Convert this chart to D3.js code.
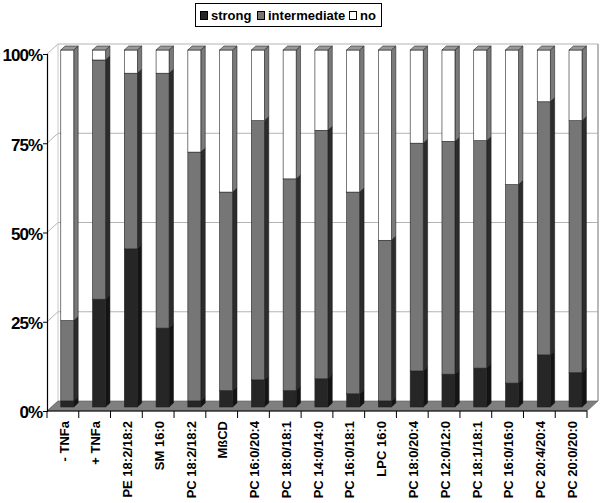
<!DOCTYPE html>
<html>
<head>
<meta charset="utf-8">
<script src="https://cdn.jsdelivr.net/npm/d3@7"></script>
<style>
  body { margin: 0; background: #fff; }
  text { font-family: "Liberation Sans", Arial, sans-serif; font-weight: bold; }
</style>
</head>
<body>
<div id="chart"></div>
<script>
// values, percent of cells
const categories = ["- TNFa", "+ TNFa", "PE 18:2/18:2", "SM 16:0", "PC 18:2/18:2", "MßCD",
  "PC 16:0/20:4", "PC 18:0/18:1", "PC 14:0/14:0", "PC 16:0/18:1", "LPC 16:0",
  "PC 18:0/20:4", "PC 12:0/12:0", "PC 18:1/18:1", "PC 16:0/16:0", "PC 20:4/20:4", "PC 20:0/20:0"];
const strong = [1.7, 30.2, 44.3, 22.1, 1.7, 4.6, 7.6, 4.6, 7.9, 3.7, 1.7, 10.1, 9.2, 10.9, 6.7, 14.6, 9.6];
const intermediate = [22.5, 67.0, 49.2, 71.4, 69.7, 55.6, 72.6, 59.3, 69.6, 56.5, 45.0, 63.8, 65.2, 63.7, 55.6, 70.9, 70.6];
const no = [75.8, 2.8, 6.5, 6.5, 28.6, 39.8, 19.8, 36.1, 22.5, 39.8, 53.3, 26.1, 25.6, 25.4, 37.7, 14.5, 19.8];
const seriesNames = ["strong", "intermediate", "no"];
const yTicks = [0, 25, 50, 75, 100];

const width = 600, height = 503;
const DX = 11, DY = -10;           // depth of the 3d box
const front = 0.4, back = 0.8;     // bar depth inside the box

const colors = {
  strong: { front: "#262626", side: "#141414", top: "#3a3a3a" },
  intermediate: { front: "#767676", side: "#2c2c2c", top: "#8a8a8a" },
  no: { front: "#ffffff", side: "#7a7a7a", top: "#999999" }
};

const rows = categories.map((c, i) => ({ cat: c, strong: strong[i], intermediate: intermediate[i], no: no[i] }));
const stacked = d3.stack().keys(seriesNames)(rows);

const x = d3.scaleBand().domain(categories).range([47, 587]);
const y = d3.scaleLinear().domain([0, 100]).range([411, 54]);

const svg = d3.select("#chart").append("svg")
  .attr("width", width).attr("height", height);

const x0 = x.range()[0], x1 = x.range()[1];

// back wall + left wall gridlines
const grid = svg.append("g");
grid.selectAll("line.h").data(yTicks.slice(1)).join("line")
  .attr("x1", x0 + DX).attr("x2", x1 + DX)
  .attr("y1", d => y(d) + DY).attr("y2", d => y(d) + DY)
  .attr("stroke", "#b4b4b4").attr("stroke-width", 1);
grid.selectAll("line.d").data(yTicks).join("line")
  .attr("x1", x0).attr("x2", x0 + DX)
  .attr("y1", d => y(d)).attr("y2", d => y(d) + DY)
  .attr("stroke", "#b4b4b4").attr("stroke-width", 1);
grid.append("line")
  .attr("x1", x0 + DX).attr("x2", x0 + DX)
  .attr("y1", y(0) + DY).attr("y2", y(100) + DY)
  .attr("stroke", "#c8c8c8");
grid.append("line")
  .attr("x1", x1 + DX).attr("x2", x1 + DX)
  .attr("y1", y(0) + DY).attr("y2", y(100) + DY)
  .attr("stroke", "#a0a0a0").attr("stroke-width", 1.5);

// floor
svg.append("path")
  .attr("d", `M${x0},${y(0)}L${x1},${y(0)}L${x1 + DX},${y(0) + DY}L${x0 + DX},${y(0) + DY}Z`)
  .attr("fill", "#7f7f7f").attr("stroke", "#5a5a5a").attr("stroke-width", 0.6);

// bars
const bw = 13;
const g = svg.append("g");
stacked.forEach((s, si) => {
  const col = colors[s.key];
  s.forEach((d, i) => {
    const bx = x(categories[i]) + (x.bandwidth() - bw) / 2;
    const fx = bx + front * DX, fdy = front * DY;
    const sx = (back - front) * DX, sdy = (back - front) * DY;
    const yt = y(d[1]) + fdy, yb = y(d[0]) + fdy;
    // side
    g.append("path")
      .attr("d", `M${fx + bw},${yb}L${fx + bw + sx},${yb + sdy}L${fx + bw + sx},${yt + sdy}L${fx + bw},${yt}Z`)
      .attr("fill", col.side).attr("stroke", "#111").attr("stroke-width", 0.5);
    // front
    g.append("rect")
      .attr("x", fx).attr("y", yt).attr("width", bw).attr("height", Math.max(0, yb - yt))
      .attr("fill", col.front).attr("stroke", "#222").attr("stroke-width", 0.6);
    // top of the stack
    if (si === stacked.length - 1) {
      g.append("path")
        .attr("d", `M${fx},${yt}L${fx + sx},${yt + sdy}L${fx + bw + sx},${yt + sdy}L${fx + bw},${yt}Z`)
        .attr("fill", col.top).attr("stroke", "#222").attr("stroke-width", 0.6);
    }
  });
});

// y axis
const yAxis = svg.append("g").attr("transform", `translate(${x0},0)`)
  .call(d3.axisLeft(y).tickValues(yTicks).tickFormat(d => d + "%").tickSize(4).tickPadding(1));
yAxis.select(".domain").attr("stroke", "#000").attr("stroke-width", 1.2);
yAxis.selectAll(".tick line").attr("stroke", "#000");
yAxis.selectAll(".tick text")
  .attr("font-size", 17).attr("fill", "#000")
  .attr("letter-spacing", -1).attr("dy", "0.4em")
  .style("font-family", "'Liberation Sans', Arial, sans-serif").style("font-weight", "bold");

// x axis: front edge, boundary ticks, rotated labels
svg.append("line")
  .attr("x1", x0).attr("x2", x1).attr("y1", y(0)).attr("y2", y(0))
  .attr("stroke", "#000").attr("stroke-width", 1.2);
const bounds = categories.map(c => x(c)).concat([x1]);
svg.selectAll("line.xt").data(bounds).join("line")
  .attr("x1", d => d).attr("x2", d => d)
  .attr("y1", y(0)).attr("y2", y(0) + 7)
  .attr("stroke", "#000");
svg.selectAll("text.xl").data(categories).join("text")
  .attr("transform", d => `translate(${x(d) + x.bandwidth() / 2 + 1},${y(0) + 10}) rotate(-90)`)
  .attr("text-anchor", "end").attr("dy", "0.36em")
  .attr("font-size", 13).attr("fill", "#000")
  .text(d => d);

// legend
const lg = svg.append("g");
lg.append("rect").attr("x", 195.5).attr("y", 3.5).attr("width", 186).attr("height", 23)
  .attr("fill", "#fff").attr("stroke", "#000");
const legendPos = [200, 257, 349];
seriesNames.forEach((k, i) => {
  lg.append("rect").attr("x", legendPos[i] + 0.5).attr("y", 11.5).attr("width", 7).attr("height", 8)
    .attr("fill", colors[k].front).attr("stroke", "#000");
  lg.append("text").attr("x", legendPos[i] + 11).attr("y", 20)
    .attr("font-size", 13).attr("fill", "#000").text(k);
});
</script>
</body>
</html>
